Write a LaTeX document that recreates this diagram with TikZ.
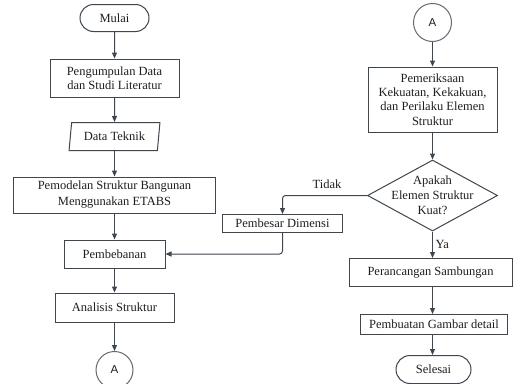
\documentclass[tikz,border=0pt]{standalone}
\usepackage{fontspec}
\setmainfont{Liberation Serif}
\newfontfamily\sansA{Liberation Sans}
\usetikzlibrary{arrows.meta,shapes.geometric,shapes.misc}
\definecolor{ln}{RGB}{62,70,80}
\definecolor{txt}{RGB}{30,30,30}
\begin{document}
\begin{tikzpicture}[x=1pt,y=-1pt,
  every node/.style={text=txt, font=\fontsize{12.5}{14}\selectfont},
  box/.style={draw=ln, line width=1pt, inner sep=1pt, align=center},
  term/.style={rounded rectangle, draw=ln, line width=1pt, inner sep=1pt},
  conn/.style={circle, draw=ln!80, line width=1pt, minimum size=37pt, inner sep=0pt, font=\sansA\fontsize{11.5}{12}\selectfont},
  io/.style={trapezium, trapezium left angle=80, trapezium right angle=100, trapezium stretches=true, draw=ln, line width=1pt, inner sep=1pt},
  decision/.style={diamond, draw=ln, line width=1pt, inner sep=0pt},
  arr/.style={draw=ln, line width=1pt, -{Triangle[length=6pt,width=5pt]}},
  lbl/.style={inner sep=0pt}]
\fill[white] (0,0) rectangle (513,383);
\useasboundingbox (0,0) rectangle (513,383);
% left column
\node[term, minimum width=71pt, minimum height=27pt] (mulai) at (114.5,18) {Mulai};
\node[box, minimum width=129pt, minimum height=38pt, font=\fontsize{12.5}{13.5}\selectfont] (kumpul) at (114.5,78) {Pengumpulan Data\\dan Studi Literatur};
\node[io, minimum width=91pt, minimum height=28pt] (data) at (114.5,136.5) {Data Teknik};
\node[box, minimum width=202pt, minimum height=36pt, font=\fontsize{12.5}{16}\selectfont] (model) at (114.5,195) {Pemodelan Struktur Bangunan\\Menggunakan ETABS};
\node[box, minimum width=101pt, minimum height=28pt] (beban) at (114.5,254) {Pembebanan};
\node[box, minimum width=119pt, minimum height=29pt] (analisis) at (114.5,307.5) {Analisis Struktur};
\node[conn] (a1) at (114.5,370) {A};
% right column
\node[conn, minimum size=38pt] (a2) at (432.5,22.5) {A};
\node[box, minimum width=129pt, minimum height=65pt, font=\fontsize{12.5}{14.3}\selectfont] (periksa) at (432.5,99.5) {Pemeriksaan\\Kekuatan, Kekakuan,\\dan Perilaku Elemen\\Struktur};
\node[decision, minimum width=130pt, minimum height=71pt] (dia) at (432.5,195.5) {};
\node[align=center, inner sep=0pt, font=\fontsize{12.5}{15}\selectfont] (diatext) at (dia.center) {Apakah\\Elemen Struktur\\Kuat?};
\node[box, minimum width=120pt, minimum height=18pt] (besar) at (282.5,223.5) {Pembesar Dimensi};
\node[box, minimum width=163pt, minimum height=28pt] (rancang) at (430.5,272.5) {Perancangan Sambungan};
\node[box, minimum width=147pt, minimum height=20pt] (buat) at (434,324.5) {Pembuatan Gambar detail};
\node[term, minimum width=77pt, minimum height=28pt] (selesai) at (433.5,369.5) {Selesai};
\node[lbl] (tidak) at (327,184) {Tidak};
\node[lbl, anchor=west] (ya) at (435.5,244) {Ya};
% connectors
\draw[arr] (mulai) -- (kumpul);
\draw[arr] (kumpul) -- (data);
\draw[arr] (data) -- (model);
\draw[arr] (model) -- (beban);
\draw[arr] (beban) -- (analisis);
\draw[arr] (analisis) -- (a1);
\draw[arr] (a2) -- (periksa);
\draw[arr] (periksa) -- (dia);
\draw[arr] (dia.south) -- (dia.south |- rancang.north);
\draw[arr] (rancang.south -| dia.south) -- (dia.south |- buat.north);
\draw[arr] (buat.south -| dia.south) -- (dia.south |- selesai.north);
\draw[arr, rounded corners=3pt] (dia.west) -| (besar.north);
\draw[arr, rounded corners=3pt] (besar.south) |- (beban.east);
\end{tikzpicture}
\end{document}
